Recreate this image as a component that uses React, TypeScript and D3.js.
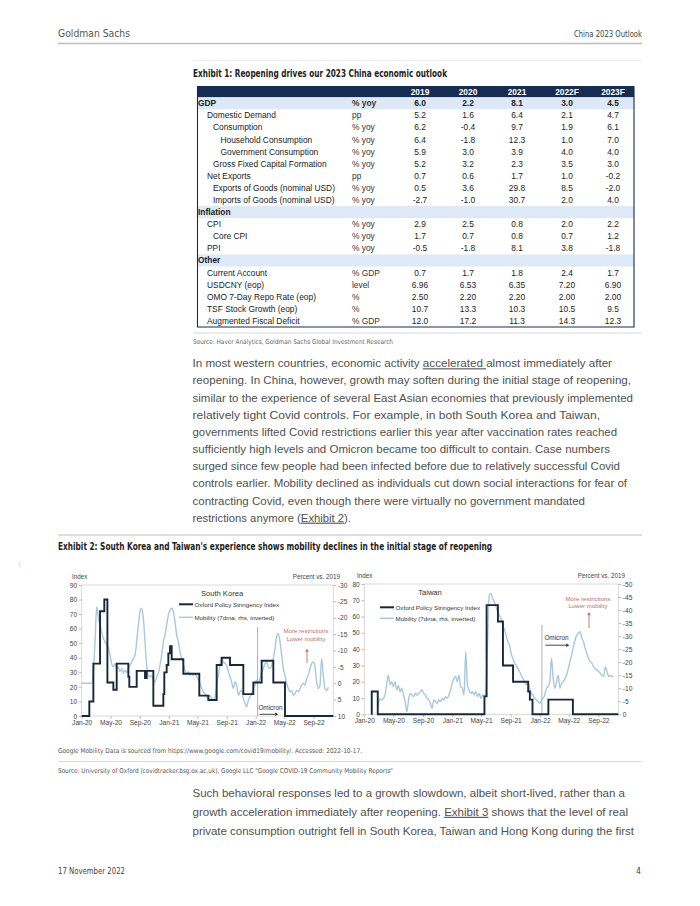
import React, { useEffect, useRef } from 'react';
import * as d3 from 'd3';

const SANS = '"Liberation Sans", Arial, Helvetica, sans-serif';
const NARROW = '"Liberation Sans Narrow", "DejaVu Sans Condensed", "Liberation Sans", sans-serif';

// ---- Exhibit 1 table ----
const tableYears = ['2019', '2020', '2021', '2022F', '2023F'];
const rowLabels = [
  'GDP', 'Domestic Demand', 'Consumption', 'Household Consumption', 'Government Consumption',
  'Gross Fixed  Capital Formation', 'Net Exports', 'Exports of Goods (nominal USD)',
  'Imports of Goods (nominal USD)', 'Inflation', 'CPI', 'Core CPI', 'PPI', 'Other',
  'Current Account', 'USDCNY (eop)', 'OMO 7-Day Repo Rate (eop)', 'TSF Stock Growth (eop)',
  'Augmented Fiscal Deficit',
];
const rowUnits = [
  '% yoy', 'pp', '% yoy', '% yoy', '% yoy', '% yoy', 'pp', '% yoy', '% yoy', '',
  '% yoy', '% yoy', '% yoy', '', '% GDP', 'level', '%', '%', '% GDP',
];
const rowLevels = [0, 1, 2, 3, 3, 2, 1, 2, 2, 0, 1, 2, 1, 0, 1, 1, 1, 1, 1];
const highlightRows = ['GDP', 'Inflation', 'Other'];
const rowValues = [
  ['6.0', '2.2', '8.1', '3.0', '4.5'],
  ['5.2', '1.6', '6.4', '2.1', '4.7'],
  ['6.2', '-0.4', '9.7', '1.9', '6.1'],
  ['6.4', '-1.8', '12.3', '1.0', '7.0'],
  ['5.9', '3.0', '3.9', '4.0', '4.0'],
  ['5.2', '3.2', '2.3', '3.5', '3.0'],
  ['0.7', '0.6', '1.7', '1.0', '-0.2'],
  ['0.5', '3.6', '29.8', '8.5', '-2.0'],
  ['-2.7', '-1.0', '30.7', '2.0', '4.0'],
  [],
  ['2.9', '2.5', '0.8', '2.0', '2.2'],
  ['1.7', '0.7', '0.8', '0.7', '1.2'],
  ['-0.5', '-1.8', '8.1', '3.8', '-1.8'],
  [],
  ['0.7', '1.7', '1.8', '2.4', '1.7'],
  ['6.96', '6.53', '6.35', '7.20', '6.90'],
  ['2.50', '2.20', '2.20', '2.00', '2.00'],
  ['10.7', '13.3', '10.3', '10.5', '9.5'],
  ['12.0', '17.2', '11.3', '14.3', '12.3'],
];

// ---- body text (underlined parts between underscores) ----
const paragraph1 = [
  'In most western countries, economic activity _accelerated _almost immediately after',
  'reopening. In China, however, growth may soften during the initial stage of reopening,',
  'similar to the experience of several East Asian economies that previously implemented',
  'relatively tight Covid controls. For example, in both South Korea and Taiwan,',
  'governments lifted Covid restrictions earlier this year after vaccination rates reached',
  'sufficiently high levels and Omicron became too difficult to contain. Case numbers',
  'surged since few people had been infected before due to relatively successful Covid',
  'controls earlier. Mobility declined as individuals cut down social interactions for fear of',
  'contracting Covid, even though there were virtually no government mandated',
  'restrictions anymore (_Exhibit 2_).',
];
const paragraph1Ends = [612, 631, 633, 600, 617, 610, 620, 627, 585, 351];
const paragraph2 = [
  'Such behavioral responses led to a growth slowdown, albeit short-lived, rather than a',
  'growth acceleration immediately after reopening. _Exhibit 3_ shows that the level of real',
  'private consumption outright fell in South Korea, Taiwan and Hong Kong during the first',
];
const paragraph2Ends = [625, 628, 634];

// ---- Exhibit 2 data ----
// Oxford stringency index, step changes [date, index]
const skStringency: [string, number][] = [
  ['2020-01-01', 0], ['2020-02-02', 10], ['2020-02-19', 36], ['2020-03-18', 72],
  ['2020-04-05', 80], ['2020-04-18', 23], ['2020-05-13', 18], ['2020-05-27', 36],
  ['2020-07-15', 27], ['2020-07-19', 20], ['2020-08-19', 31], ['2020-09-23', 26],
  ['2020-09-30', 31], ['2020-10-28', 7], ['2020-12-09', 15], ['2020-12-13', 30],
  ['2020-12-23', 35], ['2020-12-30', 43], ['2021-01-06', 48], ['2021-01-13', 39],
  ['2021-03-03', 29], ['2021-05-09', 14], ['2021-06-16', 11], ['2021-07-21', 35],
  ['2021-08-11', 40], ['2021-09-15', 35], ['2021-11-10', 15], ['2021-12-22', 23],
  ['2022-01-26', 38], ['2022-03-16', 23], ['2022-05-04', 0], ['2022-11-23', 0],
];
const twStringency: [string, number][] = [
  ['2020-01-31', 0], ['2020-02-01', 14], ['2020-02-26', 0], ['2021-05-15', 11],
  ['2021-05-24', 67], ['2021-07-10', 57], ['2021-07-31', 30], ['2021-09-11', 20],
  ['2021-11-13', 14], ['2021-11-20', 9], ['2021-12-01', 0], ['2022-02-05', 9],
  ['2022-05-18', 0], ['2022-11-23', 0],
];
// Google mobility, weekly readings (% vs 2019)
const skMobilityStart = '2020-01-01';
const skMobility = [
  0, 0, 0, 0, 0, 0, 0,
  -3.5, -12.7, -23.4, -19.8, -17.8, -15.7, -13.7, -12.7, -11.7, -11,
  -8.6, -6, -5, -6, -4.5, -5, -3.5, -4.5, -3, -4,
  -3.3, -4.5, -5.5, -6.5, -7.6, -8.6, -12.7, -17.8, -21.8, -22.9,
  -19.8, -12.7, -5.5, -2.4, -2, -2.4, -1, -0.4, -2, -3,
  -5.5, -8.6, -12.7, -14.7, -17.8, -20.8, -22.3, -22.9, -21.8, -18.8,
  -14.7, -12.7, -9.6, -7.6, -6, -4, -3, -3.5, -2.4, -3,
  -2.4, -3, -2, -1, 0, 1.6, 2.6, 3.2, 4.2, 4.7,
  3.7, 4.7, 5.2, 4.2, 0.6, -2.4, -5.5, -7.6, -6.5, -6,
  -5.5, -3.5, -2, -0.4, 1.6, -0.4, 0.6, 3.7, 2.6, 2.2,
  4.7, 6.2, 7.2, 5.2, 4.2, 3.2, 1.6, 0.6, -1, -0.4,
  -1.4, -3.5, -4.5, -6, -6.5, -5, -4.5, -5.5, -7.6, -10.6,
  -14.2, -15.2, -12.7, -8.6, -4.5, -2.4, 0, 1.6, 2.6, 2.2,
  3.7, 3.2, 2.2, 2.6, 1.6, 0.6, 0, 0.6, -1.4, -2.4,
  -4.5, -6, -6.5, -5, -0.4, 1.6, 0.6, -7.6, -2.4, 1.6,
  2.2, 1.2,
];
const twMobilityStart = '2020-02-28';
const twMobility = [
  -3.6, -6, -5.5, -6, -7.4, -11.3, -15, -11.3, -12.5, -10.6,
  -12.5, -9.3, -11.1, -8.6, -10, -7.4, -4.9, -1, -5.5, -8,
  -7.4, -6.8, -8, -7.4, -8, -8.7, -9.3, -8, -7.4, -6.1,
  -5.5, -4.2, -2.3, -5.5, -4.9, -4.2, -5.5, -4.9, -6.1, -5.5,
  -6.8, -6.1, -7.4, -9.3, -11.9, -13.8, -14.5, -12.5, -15, -10.6,
  -10, -7.4, -24, -11.3, -9.3, -8, -8.7, -7.4, -8.7, -6.8,
  -8, -6.1, -7.4, -6.8, -8.7, -27.9, -45.8, -46.4, -44.5, -43.2,
  -41.4, -39.4, -38, -36.8, -34.3, -32.4, -30.4, -27.9, -26.6, -23.4,
  -21.5, -19.6, -18.9, -17.6, -16.4, -15, -13.8, -12.5, -11.3, -12.5,
  -10, -8, -7.4, -6.1, -5.5, -4.9, -4.2, -5.5, -6.1, -7.4,
  -10, -10.6, -12.5, -21.5, -13.8, -10, -12.5, -15, -10, -11.9,
  -12.5, -13.8, -15, -17.6, -20.2, -22.8, -26, -28.5, -30.4, -31.1,
  -31.7, -29.2, -27.9, -25.3, -23.4, -21.5, -20.2, -19.6, -18.3, -17.6,
  -17, -16.4, -15.7, -15, -14.5, -18.3, -16.4, -14.5, -15, -14.5,
  -14.8,
];
const omicronDate = '2022-01-09';
const dateDomain = ['2020-01-01', '2022-11-23'];

const parse = d3.timeParse('%Y-%m-%d');

function addText(g: any, x: number, y: number, s: string, o: any = {}) {
  const t = g.append('text').attr('x', x).attr('y', y).text(s)
    .style('font-family', o.family || SANS)
    .style('font-size', `${o.size || 8}px`)
    .attr('fill', o.fill || '#333')
    .attr('text-anchor', o.anchor || 'start');
  if (o.weight) t.style('font-weight', o.weight);
  if (o.len) t.attr('textLength', o.len).attr('lengthAdjust', o.adjust || 'spacingAndGlyphs');
  return t;
}

function addArrow(g: any, x1: number, y1: number, x2: number, y2: number, color: string) {
  const ang = Math.atan2(y2 - y1, x2 - x1);
  const hl = 3.2, hw = 1.8;
  const bx = x2 - hl * Math.cos(ang), by = y2 - hl * Math.sin(ang);
  g.append('line').attr('x1', x1).attr('y1', y1).attr('x2', bx).attr('y2', by)
    .attr('stroke', color).attr('stroke-width', 0.9);
  const px = -Math.sin(ang) * hw, py = Math.cos(ang) * hw;
  g.append('path')
    .attr('d', `M${x2},${y2}L${bx + px},${by + py}L${bx - px},${by - py}Z`)
    .attr('fill', color);
}

function paragraph(g: any, lines: string[], ends: number[], x: number, y0: number, step: number) {
  lines.forEach((line, i) => {
    const t = g.append('text').attr('x', x).attr('y', y0 + i * step)
      .style('font-family', SANS).style('font-size', '11px').attr('fill', '#505050')
      .attr('textLength', ends[i] - x).attr('lengthAdjust', 'spacingAndGlyphs');
    line.split('_').forEach((part, j) => {
      if (!part) return;
      const ts = t.append('tspan').text(part);
      if (j % 2 === 1) ts.style('text-decoration', 'underline');
    });
  });
}

function drawPanel(root: any, c: any) {
  const g = root.append('g');
  const x = d3.scaleTime().domain(dateDomain.map((d) => parse(d) as Date)).range([c.left, c.right]);
  const yL = d3.scaleLinear().domain([0, c.leftMax]).range([c.bottom, c.top]);
  const yR = d3.scaleLinear().domain(c.rightDomain).range([c.top, c.bottom]);

  g.append('rect').attr('x', c.left).attr('y', c.top)
    .attr('width', c.right - c.left).attr('height', c.bottom - c.top)
    .attr('fill', 'none').attr('stroke', '#cfcfcf').attr('stroke-width', 0.8);

  const style = (sel: any) => {
    sel.select('.domain').remove();
    sel.selectAll('line').attr('stroke', '#bdbdbd');
    sel.selectAll('text').style('font-family', SANS).style('font-size', '6.6px').attr('fill', '#444');
  };
  g.append('g').attr('transform', `translate(${c.left},0)`)
    .call(d3.axisLeft(yL).tickValues(d3.range(0, c.leftMax + 1, 10)).tickSize(3).tickPadding(1.5)
      .tickFormat((d: any) => String(d)))
    .call(style);
  g.append('g').attr('transform', `translate(${c.right},0)`)
    .call(d3.axisRight(yR).tickValues(d3.range(c.rightDomain[0], c.rightDomain[1] + 1, 5)).tickSize(3).tickPadding(1.5)
      .tickFormat((d: any) => String(d)))
    .call(style);
  const monthTicks = d3.timeMonth.every(4)!.range(parse('2020-01-01') as Date, parse('2022-10-01') as Date);
  g.append('g').attr('transform', `translate(0,${c.bottom})`)
    .call(d3.axisBottom(x).tickValues(monthTicks).tickSize(3).tickPadding(1.5)
      .tickFormat((d: any) => d3.timeFormat('%b-%y')(d)))
    .call(style);

  addText(g, c.indexX, c.top - 6, 'Index', { size: 6.3, fill: '#444' });
  addText(g, c.pctX, c.top - 6, 'Percent vs. 2019', { size: 6.3, fill: '#444', anchor: 'end' });

  // Omicron marker
  const ox = x(parse(omicronDate) as Date);
  g.append('line').attr('x1', ox).attr('x2', ox).attr('y1', c.omicronTop).attr('y2', c.bottom)
    .attr('stroke', '#8a8a8a').attr('stroke-width', 0.7);
  addText(g, ox + c.omicronDx, c.omicronY, 'Omicron', { size: 6.4, fill: '#333' });
  addArrow(g, ox + c.omicronDx + 1, c.omicronY + c.omicronArrowDy, ox + c.omicronDx + c.omicronArrowLen, c.omicronY + c.omicronArrowDy, '#333');

  // series
  const mob = (vals: number[], start: string) => {
    const s = parse(start) as Date;
    return vals.map((v, i) => [d3.timeDay.offset(s, i * 7), v] as [Date, number]);
  };
  g.append('path').datum(mob(c.mobility, c.mobilityStart))
    .attr('d', d3.line<[Date, number]>().x((d) => x(d[0])).y((d) => yR(d[1])).curve(d3.curveMonotoneX))
    .attr('fill', 'none').attr('stroke', '#a9c8de').attr('stroke-width', 1.4);
  g.append('path').datum(c.stringency.map((d: [string, number]) => [parse(d[0]), d[1]]))
    .attr('d', d3.line<any>().x((d) => x(d[0])).y((d) => yL(d[1])).curve(d3.curveStepAfter))
    .attr('fill', 'none').attr('stroke', '#17283a').attr('stroke-width', 1.9);

  // legend
  addText(g, c.titleX, c.titleY, c.title, { size: 7.6, fill: '#333', anchor: 'middle' });
  g.append('line').attr('x1', c.legX).attr('x2', c.legX + 14).attr('y1', c.legY1).attr('y2', c.legY1)
    .attr('stroke', '#17283a').attr('stroke-width', 2);
  addText(g, c.legX + 15.5, c.legY1 + 2.2, 'Oxford Policy Stringency Index', { size: 6.2, fill: '#333' });
  g.append('line').attr('x1', c.legX).attr('x2', c.legX + 14).attr('y1', c.legY2).attr('y2', c.legY2)
    .attr('stroke', '#a9c8de').attr('stroke-width', 1.4);
  addText(g, c.legX + 15.5, c.legY2 + 2.2, 'Mobility (7dma, rhs, inverted)', { size: 6.2, fill: '#333' });

  // annotation
  const red = '#bb6d6f';
  addText(g, c.noteX, c.noteY, 'More restrictions', { size: 6.1, fill: red, anchor: 'middle' });
  addText(g, c.noteX, c.noteY + 7.6, 'Lower mobility', { size: 6.1, fill: red, anchor: 'middle' });
  addArrow(g, c.noteX + 1, c.arrowY1, c.noteX + 1, c.arrowY2, red);
}

const App = () => {
  const svgRef = useRef<SVGSVGElement>(null);

  useEffect(() => {
    const svg = d3.select(svgRef.current);
    svg.selectAll('*').remove();

    // header
    addText(svg, 58, 37, 'Goldman Sachs', { family: NARROW, size: 10.5, fill: '#555', len: 72 });
    addText(svg, 642, 37, 'China 2023 Outlook', { family: NARROW, size: 8.5, fill: '#444', anchor: 'end', len: 68 });
    svg.append('line').attr('x1', 58).attr('x2', 642).attr('y1', 43.5).attr('y2', 43.5)
      .attr('stroke', '#bdbdbd').attr('stroke-width', 1.6);
    svg.append('line').attr('x1', 193).attr('x2', 642).attr('y1', 60.5).attr('y2', 60.5)
      .attr('stroke', '#e6e6e6').attr('stroke-width', 0.8);

    // Exhibit 1
    addText(svg, 193, 76.6, 'Exhibit 1: Reopening drives our 2023 China economic outlook',
      { family: NARROW, size: 10, weight: 'bold', fill: '#222', len: 254 });
    const tl = 197.5, tr = 634, top = 86, rowH = 12.09, firstC = 103.3;
    const colX = [420, 468, 517, 567, 613];
    const indent = [0.5, 9.5, 15.5, 23];
    const table = svg.append('g');
    table.append('rect').attr('x', tl).attr('y', top).attr('width', tr - tl).attr('height', 11.4).attr('fill', '#172c52');
    tableYears.forEach((yr, i) => addText(table, colX[i], 94.8, yr, { size: 8.4, weight: 'bold', fill: '#fff', anchor: 'middle' }));
    rowLabels.forEach((lab, i) => {
      const cy = firstC + rowH * i;
      const hl = highlightRows.includes(lab);
      if (hl) table.append('rect').attr('x', tl).attr('y', cy - rowH / 2).attr('width', tr - tl).attr('height', rowH).attr('fill', '#dde9f6');
      const bold = hl ? 'bold' : null;
      addText(table, tl + indent[rowLevels[i]], cy + 3, lab, { size: 8.4, fill: '#222', weight: bold });
      addText(table, 352, cy + 3, rowUnits[i], { size: 8.4, fill: '#333', weight: bold });
      rowValues[i].forEach((v, j) => addText(table, colX[j], cy + 3, v, { size: 8.4, fill: '#222', anchor: 'middle', weight: bold }));
    });
    const bottom = firstC + rowH * (rowLabels.length - 0.5);
    table.append('path').attr('d', `M${tl},${top}V${bottom}H${tr}V${top}`)
      .attr('fill', 'none').attr('stroke', '#172c52').attr('stroke-width', 1.1);

    svg.append('line').attr('x1', 193).attr('x2', 642).attr('y1', 333).attr('y2', 333).attr('stroke', '#cfcfcf').attr('stroke-width', 0.8);
    addText(svg, 193, 344, 'Source: Haver Analytics, Goldman Sachs Global Investment Research',
      { family: NARROW, size: 6.6, fill: '#666', len: 200 });

    paragraph(svg, paragraph1, paragraph1Ends, 192.5, 367.3, 17.15);

    // Exhibit 2
    svg.append('line').attr('x1', 58).attr('x2', 642).attr('y1', 535).attr('y2', 535).attr('stroke', '#bdbdbd').attr('stroke-width', 1);
    addText(svg, 58, 550.3, "Exhibit 2: South Korea and Taiwan's experience shows mobility declines in the initial stage of reopening",
      { family: NARROW, size: 10, weight: 'bold', fill: '#222', len: 434 });
    addText(svg, 19, 566, '|', { size: 6, fill: '#bbb' });

    drawPanel(svg, {
      left: 81.7, right: 333.3, top: 585, bottom: 716, leftMax: 90, rightDomain: [-30, 10],
      stringency: skStringency, mobility: skMobility, mobilityStart: skMobilityStart,
      indexX: 72, pctX: 340, title: 'South Korea', titleX: 222, titleY: 595.5,
      legX: 179, legY1: 604.3, legY2: 617.3,
      noteX: 306, noteY: 633.3, arrowY1: 663, arrowY2: 648.5,
      omicronTop: 627, omicronDx: 0.8, omicronY: 710.3, omicronArrowDy: 4, omicronArrowLen: 20,
    });
    drawPanel(svg, {
      left: 364.3, right: 618.3, top: 584, bottom: 714.3, leftMax: 80, rightDomain: [-50, 0],
      stringency: twStringency, mobility: twMobility, mobilityStart: twMobilityStart,
      indexX: 357, pctX: 625, title: 'Taiwan', titleX: 430, titleY: 595.3,
      legX: 380, legY1: 607.3, legY2: 618.3,
      noteX: 588, noteY: 600.5, arrowY1: 628, arrowY2: 612,
      omicronTop: 625, omicronDx: 2.5, omicronY: 640.2, omicronArrowDy: 5, omicronArrowLen: 25,
    });

    // notes and source
    addText(svg, 58, 752.5, 'Google Mobility Data is sourced from https://www.google.com/covid19/mobility/. Accessed: 2022-10-17.',
      { family: NARROW, size: 6.6, fill: '#555', len: 304 });
    svg.append('line').attr('x1', 58).attr('x2', 642).attr('y1', 761.5).attr('y2', 761.5).attr('stroke', '#cfcfcf').attr('stroke-width', 0.8);
    addText(svg, 58, 772.5, 'Source: University of Oxford (covidtracker.bsg.ox.ac.uk), Google LLC "Google COVID-19 Community Mobility Reports"',
      { family: NARROW, size: 6.6, fill: '#555', len: 335 });

    paragraph(svg, paragraph2, paragraph2Ends, 192.5, 797, 18.8);

    // footer
    addText(svg, 58, 873.5, '17 November 2022', { family: NARROW, size: 8.6, fill: '#444', len: 67 });
    addText(svg, 641, 873.5, '4', { family: NARROW, size: 8.6, fill: '#444', anchor: 'end' });
  }, []);

  return (
    <svg ref={svgRef} width={700} height={906}
      style={{ position: 'absolute', left: 0, top: 0, background: '#fff', display: 'block' }} />
  );
};

export default App;
